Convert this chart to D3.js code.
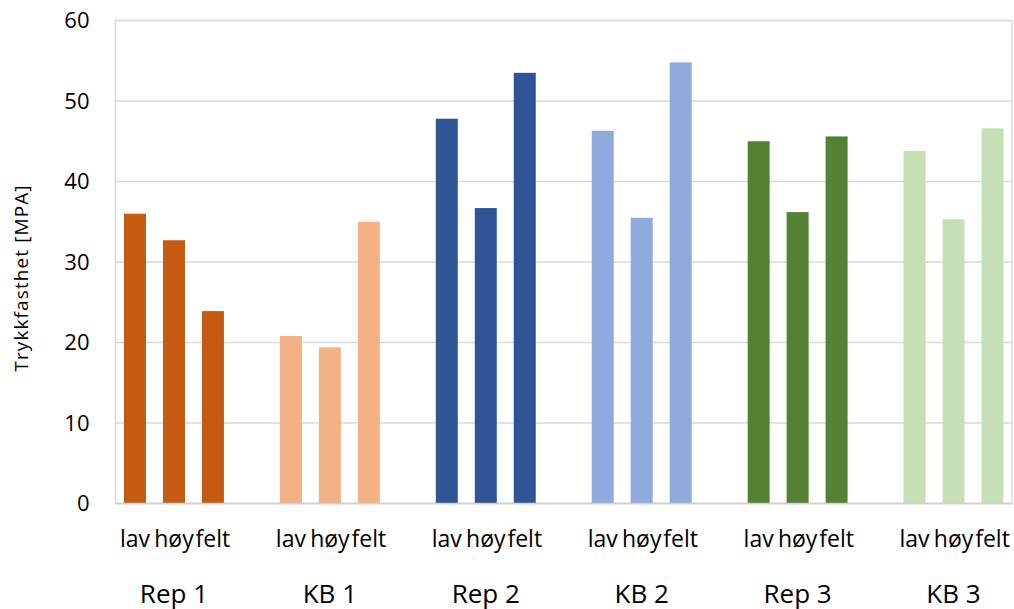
<!DOCTYPE html>
<html>
<head>
<meta charset="utf-8">
<script src="https://cdn.jsdelivr.net/npm/d3@7"></script>
<style>
  html, body { margin: 0; padding: 0; background: #ffffff; }
  svg { display: block; }
  text { font-family: "Open Sans", "Noto Sans", sans-serif; fill: #000; }
</style>
</head>
<body>
<svg id="chart" width="1014" height="609"></svg>
<script>
// Compressive strength per mix group and curing condition
const groups = ["Rep 1", "KB 1", "Rep 2", "KB 2", "Rep 3", "KB 3"];
const conditions = ["lav", "høy", "felt"];
const rep1 = [36.0, 32.7, 23.9];
const kb1  = [20.8, 19.4, 35.0];
const rep2 = [47.8, 36.7, 53.5];
const kb2  = [46.3, 35.5, 54.8];
const rep3 = [45.0, 36.2, 45.6];
const kb3  = [43.8, 35.3, 46.6];
const groupColors = ["#c55a11", "#f4b183", "#2f5597", "#8faadc", "#548235", "#c5e0b4"];
const yTicks = [0, 10, 20, 30, 40, 50, 60];
const yTitle = "Trykkfasthet [MPA]";

const seriesValues = [rep1, kb1, rep2, kb2, rep3, kb3];

// One slot per bar, with an empty slot between groups
const slots = [];
const bars = [];
groups.forEach((g, gi) => {
  conditions.forEach((c, ci) => {
    const key = g + "|" + c;
    slots.push(key);
    bars.push({ key, group: g, gi, cond: c, value: seriesValues[gi][ci] });
  });
  if (gi < groups.length - 1) slots.push("gap|" + gi);
});

const svg = d3.select("#chart");
const plot = { left: 115.5, right: 1012, top: 20.5, bottom: 503.5 };

const x = d3.scaleBand()
  .domain(slots)
  .range([plot.left, plot.right])
  .paddingInner(0.436)
  .paddingOuter(0.218);

const y = d3.scaleLinear()
  .domain([0, 60])
  .range([plot.bottom, plot.top]);

// Gridlines
const grid = svg.append("g");
grid.selectAll("line")
  .data(yTicks)
  .join("line")
  .attr("x1", plot.left)
  .attr("x2", plot.right)
  .attr("y1", d => y(d))
  .attr("y2", d => y(d))
  .attr("stroke", "#d9d9d9")
  .attr("stroke-width", 1.5);

// Plot-area frame
svg.append("rect")
  .attr("x", plot.left)
  .attr("y", plot.top)
  .attr("width", plot.right - plot.left)
  .attr("height", plot.bottom - plot.top)
  .attr("fill", "none")
  .attr("stroke", "#d9d9d9")
  .attr("stroke-width", 1.5);

// Bars
svg.append("g")
  .selectAll("rect")
  .data(bars)
  .join("rect")
  .attr("x", d => x(d.key))
  .attr("width", x.bandwidth())
  .attr("y", d => y(d.value))
  .attr("height", d => y(0) - y(d.value))
  .attr("fill", d => groupColors[d.gi]);

// Baseline
svg.append("line")
  .attr("x1", plot.left)
  .attr("x2", plot.right)
  .attr("y1", y(0))
  .attr("y2", y(0))
  .attr("stroke", "#d0d0d0")
  .attr("stroke-width", 1.5);

// Y axis tick labels
const yAxis = d3.axisLeft(y).tickValues(yTicks).tickSize(0).tickPadding(0);
const yg = svg.append("g")
  .attr("transform", `translate(${plot.left - 26},0)`)
  .call(yAxis);
yg.select(".domain").remove();
yg.selectAll("text")
  .attr("font-family", "\"Open Sans\", sans-serif")
  .attr("font-size", 22)
  .attr("fill", "#000");

// Y axis title
svg.append("text")
  .attr("transform", `translate(28,278) rotate(-90)`)
  .attr("text-anchor", "middle")
  .attr("font-size", 19)
  .attr("letter-spacing", 1.1)
  .text(yTitle);

// Condition labels under each bar
const xAxis = d3.axisBottom(x)
  .tickValues(bars.map(b => b.key))
  .tickFormat(k => k.split("|")[1])
  .tickSize(0)
  .tickPadding(0);
const xg = svg.append("g")
  .attr("transform", `translate(0,${y(0)})`)
  .call(xAxis);
xg.select(".domain").remove();
xg.selectAll("text")
  .attr("font-family", "\"Open Sans\", sans-serif")
  .attr("font-size", 23)
  .attr("fill", "#000")
  .attr("dy", null)
  .attr("y", 43.5);

// Group labels centered under each cluster
svg.append("g")
  .selectAll("text")
  .data(groups)
  .join("text")
  .attr("x", g => {
    const a = x(g + "|" + conditions[0]);
    const b = x(g + "|" + conditions[conditions.length - 1]) + x.bandwidth();
    return (a + b) / 2;
  })
  .attr("y", 602.5)
  .attr("text-anchor", "middle")
  .attr("font-size", 26)
  .text(g => g);
</script>
</body>
</html>
